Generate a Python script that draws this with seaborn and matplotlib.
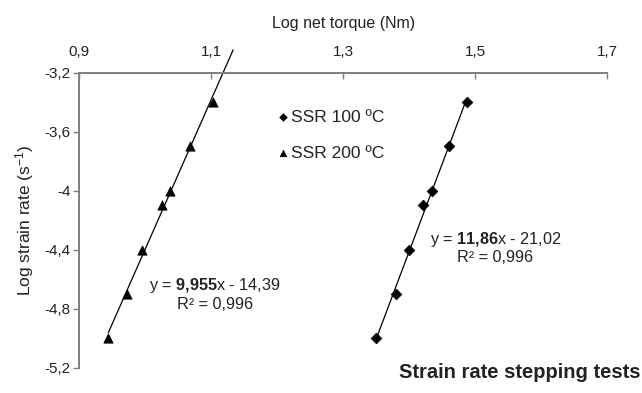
import numpy as np
import pandas as pd
import matplotlib
matplotlib.use("Agg")
import matplotlib.pyplot as plt
import seaborn as sns
from matplotlib.ticker import FuncFormatter, FixedLocator

# Data (log torque vs log strain rate)
torque_100 = [1.350, 1.3805, 1.3997, 1.4214, 1.4341, 1.4603, 1.4871]
rate_100 = [-5.0, -4.7, -4.4, -4.1, -4.0, -3.7, -3.4]
torque_200 = [0.9444, 0.9727, 0.9959, 1.0257, 1.0373, 1.0676, 1.1034]
rate_200 = [-5.0, -4.7, -4.4, -4.1, -4.0, -3.7, -3.4]

x_ticks = [0.9, 1.1, 1.3, 1.5, 1.7]
y_ticks = [-3.2, -3.6, -4.0, -4.4, -4.8, -5.2]

labels = ["SSR 100 \u00baC", "SSR 200 \u00baC"]
eq_100 = r"y = $\mathbf{11{,}86}$x - 21,02"
eq_200 = r"y = $\mathbf{9{,}955}$x - 14,39"
r2_text = "R\u00b2 = 0,996"

sns.set_theme(style="white")
plt.rcParams['font.family'] = ['Liberation Sans', 'DejaVu Sans']
plt.rcParams['mathtext.fontset'] = 'custom'
plt.rcParams['mathtext.rm'] = 'Liberation Sans'
plt.rcParams['mathtext.bf'] = 'Liberation Sans:bold'
plt.rcParams['mathtext.it'] = 'Liberation Sans:italic'

TXT = "#222222"
AX_COL = "#7f7f7f"

df100 = pd.DataFrame({"torque": torque_100, "rate": rate_100})
df200 = pd.DataFrame({"torque": torque_200, "rate": rate_200})

fig = plt.figure(figsize=(6.42, 3.93), dpi=100)
ax = fig.add_axes([79 / 642, 1 - 367.7 / 393, (607.3 - 79) / 642, (367.7 - 72.7) / 393])

# trendlines (linear fits, 200 C series forecast forward a bit like Excel)
for df, fwd in [(df100, 0.0), (df200, 0.03)]:
    k, b = np.polyfit(df["torque"], df["rate"], 1)
    xs = np.array([df["torque"].min(), df["torque"].max() + fwd])
    ax.plot(xs, k * xs + b, color="black", lw=0.9, zorder=2, clip_on=False)

sns.scatterplot(data=df100, x="torque", y="rate", marker="D", s=30, color="black",
                edgecolor="black", linewidth=0.5, label=labels[0], ax=ax, zorder=3, clip_on=False)
sns.scatterplot(data=df200, x="torque", y="rate", marker="^", s=45, color="black",
                edgecolor="black", linewidth=0.5, label=labels[1], ax=ax, zorder=3, clip_on=False)

ax.set_xlim(0.9, 1.7)
ax.set_ylim(-5.2, -3.2)

# axis styling: x axis on top, y on left
ax.xaxis.tick_top()
ax.xaxis.set_label_position('top')
for side in ["bottom", "right"]:
    ax.spines[side].set_visible(False)
for side in ["top", "left"]:
    ax.spines[side].set_color(AX_COL)
    ax.spines[side].set_linewidth(1.4)

ax.xaxis.set_major_locator(FixedLocator(x_ticks))
ax.yaxis.set_major_locator(FixedLocator(y_ticks))
fmt = FuncFormatter(lambda v, p: f"{v:g}".replace(".", ","))
ax.xaxis.set_major_formatter(fmt)
ax.yaxis.set_major_formatter(fmt)
ax.tick_params(axis="x", direction="in", length=4, width=1, color=AX_COL,
               labelsize=11, labelcolor=TXT, pad=10, top=True, bottom=False)
ax.tick_params(axis="y", direction="out", length=4, width=1, color=AX_COL,
               labelsize=11, labelcolor=TXT, pad=2, left=True)

ax.set_xlabel("Log net torque (Nm)", fontsize=11.5, color=TXT, labelpad=12)
ax.set_ylabel(r"Log strain rate (s$^{\mathregular{-1}}$)", fontsize=12.5, color=TXT, labelpad=6)

ax.legend(loc="upper left", bbox_to_anchor=(0.377, 0.875), frameon=False,
          fontsize=12.5, handlelength=0.6, handletextpad=0.15, labelspacing=1.2,
          borderpad=0, borderaxespad=0, labelcolor=TXT, markerscale=0.7)

ax.text(1.106, -4.644, eq_200, ha="center", va="center", fontsize=11.7, color=TXT)
ax.text(1.106, -4.770, r2_text, ha="center", va="center", fontsize=11.7, color=TXT)
ax.text(1.5307, -4.328, eq_100, ha="center", va="center", fontsize=11.7, color=TXT)
ax.text(1.5307, -4.454, r2_text, ha="center", va="center", fontsize=11.7, color=TXT)

fig.text(0.997, 1 - 372.3 / 393, "Strain rate stepping tests", ha="right", va="center",
         fontsize=14.5, fontweight="bold", color=TXT)

fig.savefig("out.png", dpi=100)
